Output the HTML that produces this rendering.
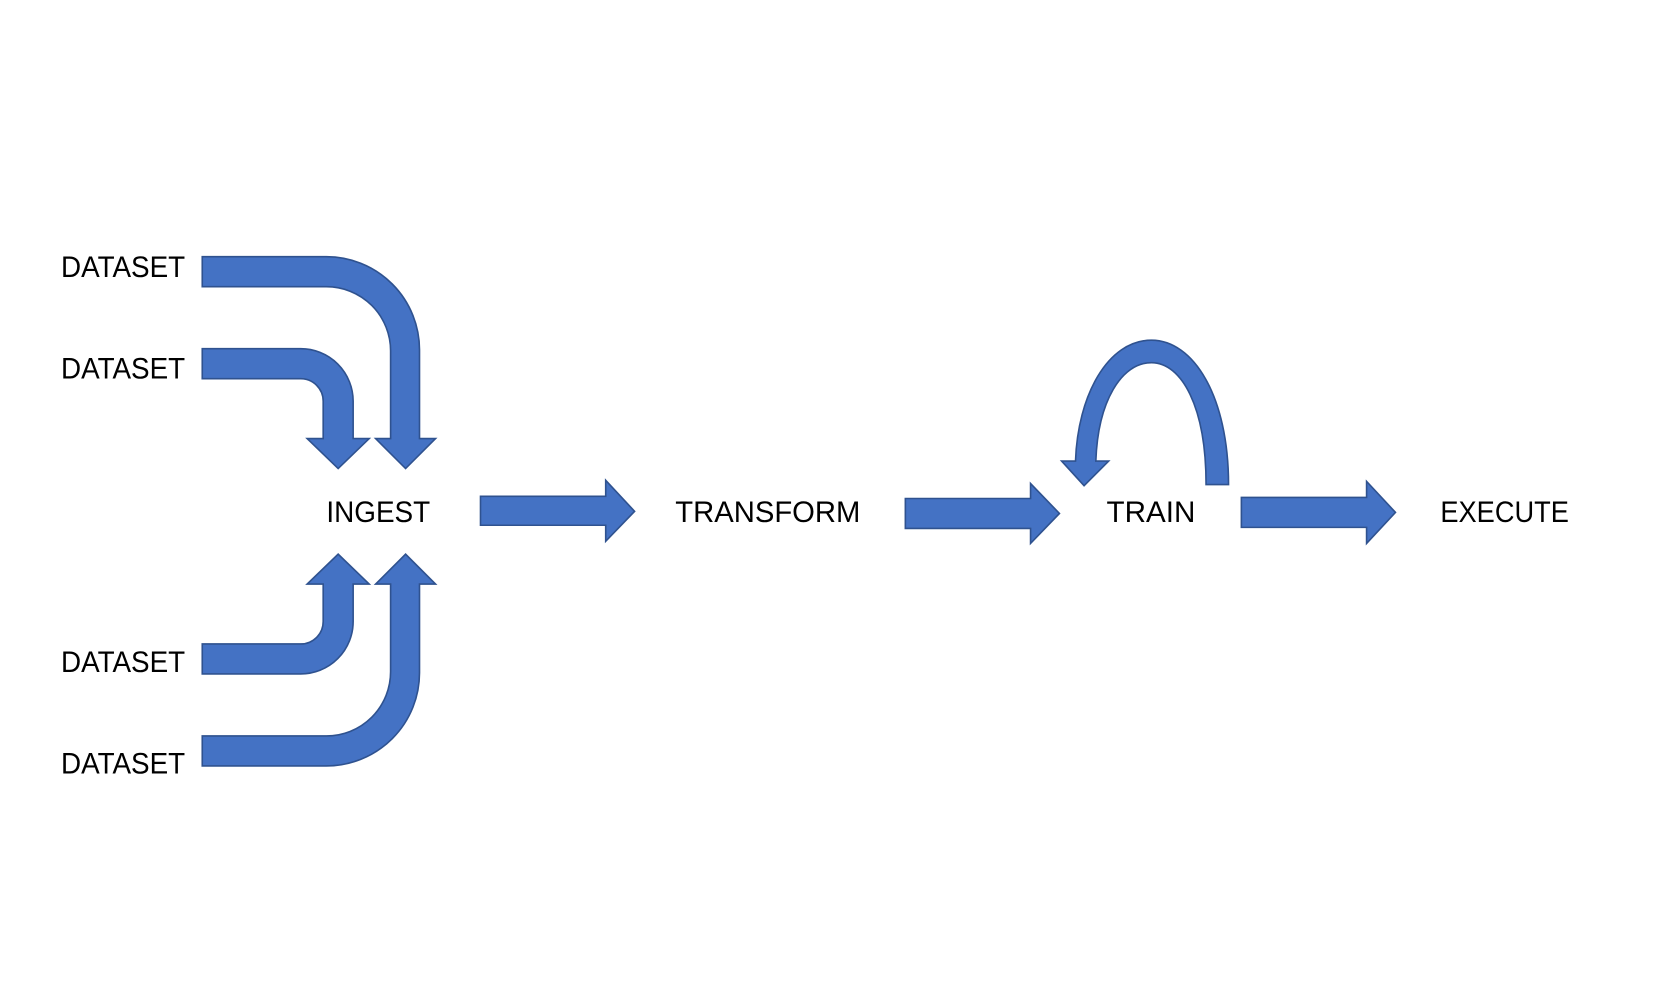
<!DOCTYPE html>
<html><head><meta charset="utf-8"><style>
html,body{margin:0;padding:0;background:#fff;}
svg{display:block;}
text{font-family:"Liberation Sans",sans-serif;font-size:28px;fill:#000;}
</style></head><body>
<svg width="1678" height="997" viewBox="0 0 1568 932" preserveAspectRatio="none" xmlns="http://www.w3.org/2000/svg">
<g fill="#4472C4" stroke="#2F528F" stroke-width="1.5" stroke-linejoin="miter">
<path d="M189,240 L305,240 A87,87 0 0 1 392,327 L392,410 L407,410 L379,438 L351,410 L365,410 L365,328 A60,60 0 0 0 305,268 L189,268 Z"/>
<path d="M189,326 L281,326 A49,49 0 0 1 330,375 L330,410 L345,410 L316,438 L287,410 L302,410 L302,375 A21,21 0 0 0 281,354 L189,354 Z"/>
<g transform="translate(0,956) scale(1,-1)">
<path d="M189,240 L305,240 A87,87 0 0 1 392,327 L392,410 L407,410 L379,438 L351,410 L365,410 L365,328 A60,60 0 0 0 305,268 L189,268 Z"/>
<path d="M189,326 L281,326 A49,49 0 0 1 330,375 L330,410 L345,410 L316,438 L287,410 L302,410 L302,375 A21,21 0 0 0 281,354 L189,354 Z"/>
</g>
<path d="M449,464 L566,464 L566,449 L593,478 L566,506 L566,491 L449,491 Z"/>
<path d="M846,466 L963,466 L963,452 L990,480 L963,508 L963,494 L846,494 Z"/>
<path d="M1160,465 L1277,465 L1277,450 L1304,479 L1277,508 L1277,493 L1160,493 Z"/>
<path d="M1127,453 L1148,453 C1148,370 1115,318 1076,318 C1035,318 1007,370 1005,431 L992,431 L1013,454 L1036,431 L1024,431 C1026,375 1048,339 1076,339 C1104,339 1127,380 1127,453 Z"/>
</g>
<text x="57" y="259" textLength="116" lengthAdjust="spacingAndGlyphs">DATASET</text>
<text x="57" y="354" textLength="116" lengthAdjust="spacingAndGlyphs">DATASET</text>
<text x="57" y="628" textLength="116" lengthAdjust="spacingAndGlyphs">DATASET</text>
<text x="57" y="723" textLength="116" lengthAdjust="spacingAndGlyphs">DATASET</text>
<text x="305" y="488" textLength="97" lengthAdjust="spacingAndGlyphs">INGEST</text>
<text x="631" y="488" textLength="173" lengthAdjust="spacingAndGlyphs">TRANSFORM</text>
<text x="1034" y="488" textLength="83" lengthAdjust="spacingAndGlyphs">TRAIN</text>
<text x="1346" y="488" textLength="120" lengthAdjust="spacingAndGlyphs">EXECUTE</text>
</svg>
</body></html>
